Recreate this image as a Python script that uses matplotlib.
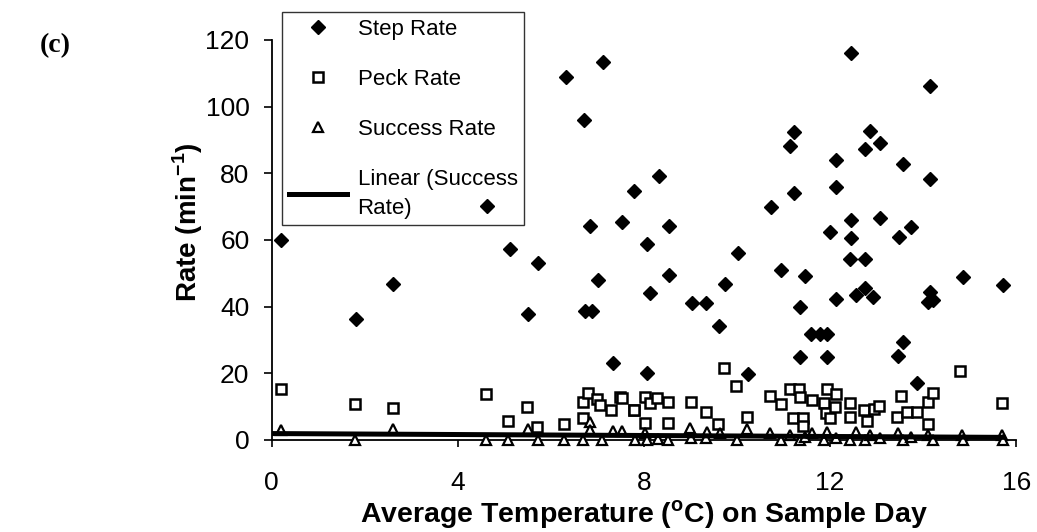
import matplotlib
matplotlib.use("Agg")
import matplotlib.pyplot as plt
import numpy as np

plt.rcParams['font.family'] = ['Liberation Sans', 'DejaVu Sans']
plt.rcParams['mathtext.fontset'] = 'custom'
plt.rcParams['mathtext.rm'] = 'Liberation Sans'
plt.rcParams['mathtext.bf'] = 'Liberation Sans:bold'

# Step rate (per minute) against mean daily temperature
step_x = [0.2, 1.81, 2.61, 4.63, 5.12, 5.51, 5.73, 6.32, 6.72, 6.73, 6.84, 6.88, 7.02,
          7.13, 7.33, 7.52, 7.78, 8.06, 8.06, 8.14, 8.32, 8.54, 8.54, 9.03, 9.33,
          9.61, 9.74, 10.01, 10.23, 10.74, 10.95, 11.14, 11.23, 11.23, 11.35, 11.35,
          11.45, 11.58, 11.78, 11.94, 11.94, 12.0, 12.12, 12.12, 12.12, 12.43, 12.44,
          12.44, 12.45, 12.55, 12.75, 12.75, 12.75, 12.85, 12.92, 13.08, 13.08,
          13.45, 13.47, 13.56, 13.56, 13.74, 13.86, 14.11, 14.14, 14.14, 14.15,
          14.22, 14.85, 15.71]
step_y = [60.0, 36.2, 46.7, 70.2, 57.3, 37.8, 53.0, 109.0, 96.0, 38.7, 64.2, 38.7, 48.0,
          113.5, 23.0, 65.5, 74.8, 58.7, 20.2, 44.2, 79.3, 64.2, 49.4, 41.2, 41.2,
          34.2, 46.8, 56.2, 19.8, 69.8, 51.0, 88.3, 92.3, 74.2, 39.8, 24.8,
          49.2, 31.7, 31.7, 31.7, 24.8, 62.3, 84.0, 76.0, 42.2, 54.2, 66.0,
          60.5, 116.0, 43.5, 87.2, 54.2, 45.5, 92.8, 42.8, 89.0, 66.5,
          25.2, 60.8, 82.8, 29.3, 64.0, 17.2, 41.5, 106.3, 78.3, 44.5,
          42.0, 49.0, 46.5]

# Peck rate (per minute)
peck_x = [0.19, 1.8, 2.6, 4.6, 5.08, 5.48, 5.71, 6.28, 6.68, 6.68, 6.8, 7.0, 7.05,
          7.3, 7.48, 7.52, 7.78, 7.78, 8.02, 8.02, 8.13, 8.29, 8.52, 8.52, 9.0,
          9.33, 9.6, 9.72, 9.98, 10.21, 10.71, 10.94, 11.13, 11.21, 11.33, 11.35,
          11.41, 11.41, 11.6, 11.86, 11.91, 11.93, 11.99, 12.11, 12.13, 12.42,
          12.42, 12.73, 12.79, 12.95, 13.05, 13.43, 13.53, 13.66, 13.86, 14.11,
          14.11, 14.22, 14.8, 15.69]
peck_y = [15.3, 10.8, 9.5, 13.8, 5.8, 10.0, 3.8, 4.9, 11.5, 6.5, 14.0, 12.2, 10.5,
          9.0, 12.8, 12.7, 9.0, 9.0, 13.0, 5.2, 11.0, 12.7, 11.3, 5.2, 11.3,
          8.3, 4.7, 21.5, 16.3, 7.0, 13.2, 10.8, 15.2, 6.5, 15.2, 12.8,
          6.5, 4.2, 12.0, 11.2, 8.0, 15.2, 6.5, 10.0, 13.7, 11.2,
          7.0, 9.0, 5.8, 9.3, 10.2, 7.0, 13.2, 8.5, 8.5, 11.5,
          4.8, 14.2, 20.7, 11.2]

# Success rate (per minute)
succ_x = [0.19, 1.8, 2.6, 4.6, 5.08, 5.51, 5.72, 6.28, 6.68, 6.84, 6.84, 7.09, 7.34,
          7.52, 7.81, 8.02, 8.06, 8.3, 8.52, 8.99, 9.0, 9.33, 9.35, 9.63, 9.99,
          10.22, 10.71, 10.94, 11.13, 11.35, 11.45, 11.6, 11.86, 11.94, 12.12,
          12.42, 12.55, 12.75, 12.85, 13.08, 13.45, 13.56, 13.74, 14.11, 14.22,
          14.83, 14.85, 15.69, 15.71]
succ_y = [3.0, 0.0, 3.2, 0.0, 0.0, 3.2, 0.0, 0.0, 0.0, 5.5, 3.0, 0.0, 2.8,
          2.8, 0.0, 2.0, 0.0, 0.2, 0.0, 3.5, 0.5, 0.5, 2.5, 2.0, 0.0,
          3.2, 2.0, 0.0, 1.5, 0.0, 1.0, 2.0, 0.0, 2.5, 0.5,
          0.0, 2.5, 0.0, 1.5, 0.5, 2.0, 0.0, 1.0, 1.5, 0.0,
          1.5, 0.0, 1.5, 0.0]

fig = plt.figure(figsize=(10.37, 5.32), dpi=100)
ax = fig.add_axes([0.262, 0.173, 0.718, 0.752])

ax.plot(step_x, step_y, 'D', color='black', markersize=7.5, clip_on=False,
        label='Step Rate', zorder=4)
ax.plot(peck_x, peck_y, 's', mfc='white', mec='black', mew=1.8, markersize=7,
        clip_on=False, label='Peck Rate', zorder=3)
ax.plot(succ_x, succ_y, '^', mfc='white', mec='black', mew=1.6, markersize=7,
        clip_on=False, label='Success Rate', zorder=3)

# least-squares trend through the success rates
slope, intercept = np.polyfit(succ_x, succ_y, 1)
fx = np.array([0, max(succ_x)])
ax.plot(fx, intercept + slope * fx, color='black', lw=3.6, zorder=5,
        label='Linear (Success\nRate)')

ax.set_xlim(0, 16)
ax.set_ylim(0, 120)
ax.set_xticks([0, 4, 8, 12, 16])
ax.set_yticks(range(0, 121, 20))
for s in ['top', 'right']:
    ax.spines[s].set_visible(False)
for s in ['left', 'bottom']:
    ax.spines[s].set_linewidth(1.3)
ax.tick_params(axis='both', direction='out', width=1.2, labelsize=19)
ax.tick_params(axis='x', length=5, pad=17)
ax.tick_params(axis='y', length=6, pad=10)

ax.set_xlabel('Average Temperature ($^{\\mathbf{o}}$C) on Sample Day',
              fontsize=20.5, fontweight='bold', labelpad=3)
ax.set_ylabel('Rate (min$^{\\mathbf{-1}}$)', fontsize=20, fontweight='bold')
ax.yaxis.set_label_coords(-0.09, 0.545)

leg = ax.legend(loc='upper left', bbox_to_anchor=(0.272, 0.977),
                bbox_transform=fig.transFigure, borderaxespad=0, fontsize=16,
                frameon=True, fancybox=False, edgecolor='black', facecolor='none',
                labelspacing=1.3, handlelength=2.6, handletextpad=0.5,
                borderpad=0.3, numpoints=1)
leg.get_frame().set_linewidth(1.0)
leg.get_texts()[3].set_linespacing(1.5)

fig.text(0.038, 0.915, '(c)', fontsize=20, fontweight='bold',
         family='Liberation Serif', va='center')

fig.savefig('out.png', dpi=100)
